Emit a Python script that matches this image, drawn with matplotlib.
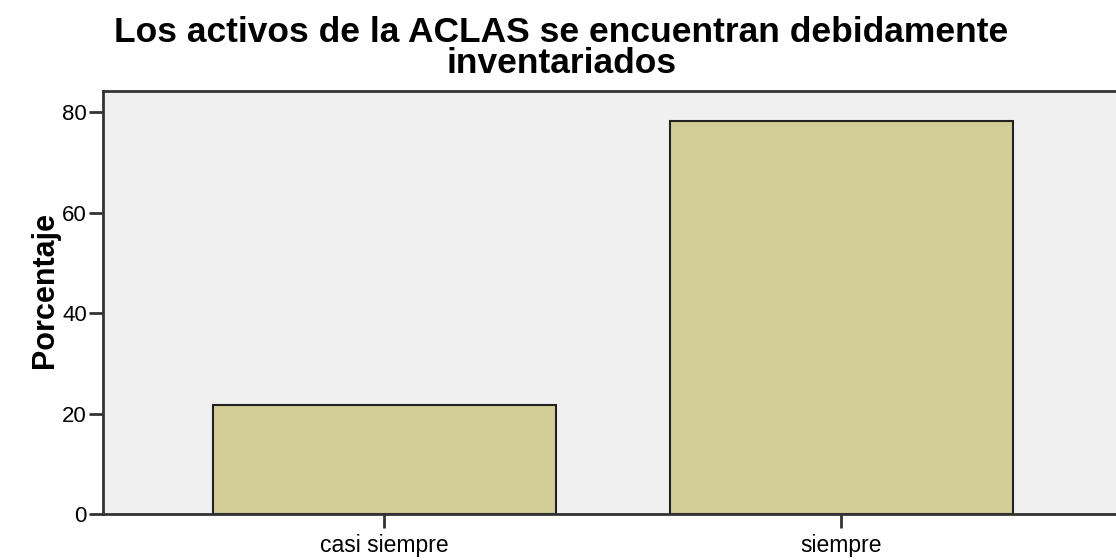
import matplotlib.pyplot as plt

# Data
categories = ['casi siempre', 'siempre']
percentages = [21.7, 78.3]
y_ticks = [0, 20, 40, 60, 80]

plt.rcParams['font.family'] = ['Liberation Sans', 'DejaVu Sans']

fig = plt.figure(figsize=(11.16, 5.6), dpi=100)
ax = fig.add_axes([0.0927, 0.0816, 0.9127, 0.756])
ax.set_facecolor('#F0F0F0')

x = range(len(categories))
ax.bar(x, percentages, width=0.75, color='#D3CE97', edgecolor='#222222', linewidth=1.5)

ax.set_xlim(-0.614, 1.614)
ax.set_ylim(0, 84.2)
ax.set_xticks(list(x))
ax.set_xticklabels(categories, fontsize=16.5)
ax.set_yticks(y_ticks)
ax.tick_params(axis='y', labelsize=16, length=10, width=2, color='#333333', pad=2)
ax.tick_params(axis='x', length=10, width=2, color='#333333', pad=4)

for side in ['left', 'bottom', 'top', 'right']:
    ax.spines[side].set_color('#333333')
    ax.spines[side].set_linewidth(2)

ax.set_ylabel('Porcentaje', fontsize=22, fontweight='bold')
ax.yaxis.set_label_coords(-0.043, 0.53)

fig.text(0.503, 0.972, 'Los activos de la ACLAS se encuentran debidamente\ninventariados',
         ha='center', va='top', fontsize=25.5, fontweight='bold', linespacing=0.93)

fig.savefig('out.png', dpi=100)
